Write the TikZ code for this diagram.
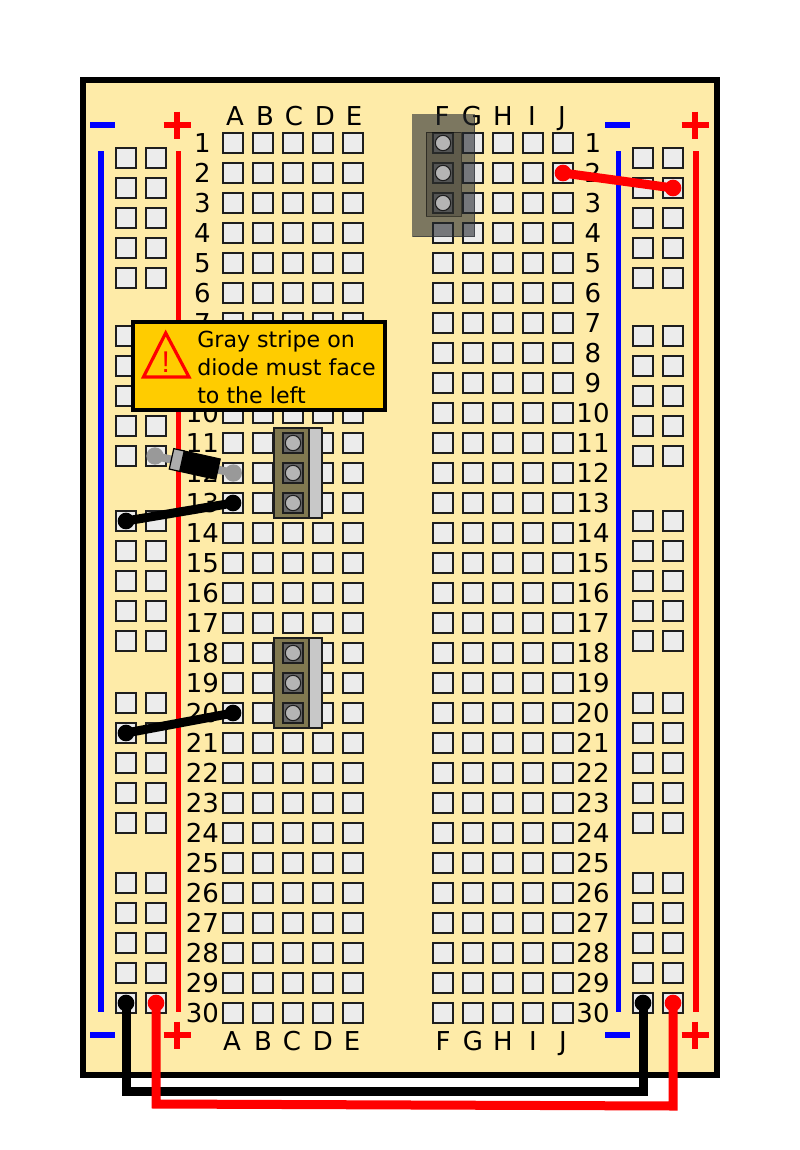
\documentclass[tikz,border=0pt]{standalone}
\usepackage{fontspec}
\setmainfont{DejaVu Sans}
\newfontfamily\bangfont{Liberation Sans}
\definecolor{boardc}{HTML}{FEEBA8}
\definecolor{holec}{HTML}{ECECEC}
\definecolor{linec}{HTML}{1E1E1E}
\definecolor{warnc}{HTML}{FFCC00}
\definecolor{olivec}{HTML}{807850}
\definecolor{stripec}{HTML}{C8C8C8}
\definecolor{pinc}{HTML}{666666}
\definecolor{dotc}{HTML}{B4B4B4}
\definecolor{leadc}{HTML}{999999}
\definecolor{shadec}{HTML}{262A30}
\definecolor{shadeb}{HTML}{30302A}
\tikzset{
  hole/.style={draw=linec,fill=holec,line width=1.7pt,minimum size=15pt,inner sep=0pt,outer sep=0pt},
  boardlabel/.style={font=\fontsize{19.5}{19.5}\selectfont,text=black,inner sep=0pt,anchor=base},
  railblue/.style={draw=blue,line width=4.2pt},
  railred/.style={draw=red,line width=4.2pt},
  signred/.style={draw=red,line width=4.5pt},
  signblue/.style={draw=blue,line width=4.2pt},
  jumper/.style={line width=6.75pt,miter limit=10},
  wireend/.style={circle,minimum size=12.5pt,inner sep=0pt,outer sep=0pt},
  pinsq/.style={draw=linec,line width=1pt,fill=pinc,minimum size=15pt,inner sep=0pt},
  pindot/.style={circle,draw=linec,line width=.8pt,fill=dotc,minimum size=11.5pt,inner sep=0pt},
  ghostpinsq/.style={fill=shadeb,fill opacity=.12,minimum size=15pt,inner sep=0pt},
  lead/.style={draw=leadc,line width=6pt},
  leaddot/.style={circle,fill=leadc,minimum size=13pt,inner sep=0pt},
}
\begin{document}
\begin{tikzpicture}[x=.75pt,y=-.75pt]
\useasboundingbox (0,0) rectangle (800,1150);
\fill[white] (0,0) rectangle (800,1150);
% board
\node[draw=black,fill=boardc,line width=4.6pt,minimum width=475.5pt,minimum height=746.25pt,inner sep=0pt,outer sep=0pt,anchor=north west] (board) at (83,80) {};
% power rails
\draw[railblue] (100.7,151) coordinate (lbt) -- (100.7,1012) coordinate (lbb);
\draw[railred] (178.3,151) coordinate (lrt) -- (178.3,1012) coordinate (lrb);
\draw[railblue] (618.3,151) coordinate (rbt) -- (618.3,1012) coordinate (rbb);
\draw[railred] (696,151) coordinate (rrt) -- (696,1012) coordinate (rrb);
% signs
\foreach \n/\mx/\px/\sy in {a/90/177/125,b/90/177/1035,c/605/695/125,d/605/695/1035}{
  \draw[signblue] (\mx,\sy) coordinate (minus\n) -- ++(25,0);
  \draw[signred] (\px-13.5,\sy) coordinate (plush\n) -- ++(27,0);
  \draw[signred] (\px,\sy-13.5) coordinate (plusv\n) -- ++(0,27);
}
% terminal holes and labels
\foreach \r [evaluate=\r as \yy using {143+(\r-1)*30}] in {1,...,30}{
  \node[boardlabel] (numl\r) at (202.5,\yy+9.2) {\r};
  \node[boardlabel] (numr\r) at (593,\yy+9.2) {\r};
  \foreach \c/\cx in {a/233,b/263,c/293,d/323,e/353,f/443,g/473,h/503,i/533,j/563}{
    \node[hole] (\c\r) at (\cx,\yy) {};
  }
}
% rail holes
\foreach \y in {158,188,218,248,278,336,366,396,426,456,521,551,581,611,641,703,733,763,793,823,883,913,943,973,1003}{
  \node[hole] (la\y) at (126,\y) {};
  \node[hole] (lb\y) at (156,\y) {};
  \node[hole] (ra\y) at (643,\y) {};
  \node[hole] (rb\y) at (673,\y) {};
}
% column letters
\foreach \t/\x in {A/235,B/265,C/294,D/325,E/354,F/442,G/472,H/503,I/532,J/562}{
  \node[boardlabel] (top\t) at (\x,125) {\t};
}
\foreach \t/\x in {A/232,B/263,C/292,D/323,E/352,F/443,G/473,H/503,I/533,J/563}{
  \node[boardlabel] (bot\t) at (\x,1050) {\t};
}
% translucent component
\node[fill=shadec,fill opacity=.6,draw=shadec,draw opacity=.6,line width=.75pt,minimum width=46.5pt,minimum height=91.5pt,inner sep=0pt,anchor=north west] (ghost) at (412.3,114) {};
\node[fill=shadeb,fill opacity=.38,draw=black,draw opacity=.5,line width=.75pt,minimum width=26.25pt,minimum height=63pt,inner sep=0pt,anchor=north west] (ghostin) at (425.7,131.7) {};
\foreach \y in {143,173,203}{
  \node[ghostpinsq] (gs\y) at (443,\y) {};
  \node[pindot] (gd\y) at (443,\y) {};
}
% upright components
\foreach \n/\top in {u/428.3,v/638.3}{
  \node[draw=linec,fill=olivec,line width=1.5pt,minimum width=26.5pt,minimum height=67.5pt,inner sep=0pt,outer sep=0pt,anchor=north west] (body\n) at (274,\top) {};
  \node[draw=linec,fill=stripec,line width=1.5pt,minimum width=9.75pt,minimum height=67.5pt,inner sep=0pt,outer sep=0pt,anchor=north west] (band\n) at (309.3,\top) {};
  \foreach \i in {15,45,75}{
    \node[pinsq] (sq\n\i) at (293,\top-.3+\i) {};
    \node[pindot] (dot\n\i) at (293,\top-.3+\i) {};
  }
}
% diode
\node[leaddot] (dl) at (155,456) {};
\node[leaddot] (dr) at (233.3,473) {};
\draw[lead] (dl.center) -- (dr.center);
\begin{scope}[shift={(194.8,464)},rotate=-12.5]
  \node[fill=black,draw=black,line width=.75pt,minimum width=27.5pt,minimum height=15.7pt,inner sep=0pt,outer sep=0pt,rotate=-12.5] (dbody) at (5.5,0) {};
  \node[fill=leadc!80!white,draw=black,line width=.9pt,minimum width=8pt,minimum height=15.7pt,inner sep=0pt,outer sep=0pt,rotate=-12.5] (dband) at (-18.5,0) {};
\end{scope}
% short jumpers
\draw[jumper,red] (j2.center) -- (rb188.center);
\node[wireend,fill=red] (je1) at (j2) {};
\node[wireend,fill=red] (je2) at (rb188) {};
\draw[jumper,black] (la521.center) -- (a13.center);
\node[wireend,fill=black] (ke1) at (la521) {};
\node[wireend,fill=black] (ke2) at (a13) {};
\draw[jumper,black] (la733.center) -- (a20.center);
\node[wireend,fill=black] (ke3) at (la733) {};
\node[wireend,fill=black] (ke4) at (a20) {};
% long jumpers
\coordinate (kc1) at (126,1091);
\coordinate (kc2) at (643,1091);
\coordinate (rc1) at (156,1104);
\coordinate (rc2) at (673,1106);
\draw[jumper,black] (la1003.center) -- (kc1) -- (kc2) -- (ra1003.center);
\draw[jumper,red] (lb1003.center) -- (rc1) -- (rc2) -- (rb1003.center);
\node[wireend,fill=black] (ke5) at (la1003) {};
\node[wireend,fill=black] (ke6) at (ra1003) {};
\node[wireend,fill=red] (je3) at (lb1003) {};
\node[wireend,fill=red] (je4) at (rb1003) {};
% warning box
\node[draw=black,fill=warnc,line width=3pt,minimum width=189pt,minimum height=66pt,inner sep=0pt,outer sep=0pt,anchor=north west] (warn) at (133,322) {};
\draw[red,line width=2.4pt,miter limit=10] (165.7,333) coordinate (tria) -- (143.5,377) coordinate (trib) -- (189,377) coordinate (tric) -- cycle;
\node[text=red,font=\bangfont\fontsize{22.5}{22.5}\selectfont,inner sep=0pt,anchor=base] (bang) at (165.7,372) {!};
\node[font=\fontsize{16.6}{20.9}\selectfont,align=left,inner sep=0pt,anchor=north west] (warntext) at (197,330.3) {Gray stripe on\\diode must face\\to the left};
\end{tikzpicture}
\end{document}
